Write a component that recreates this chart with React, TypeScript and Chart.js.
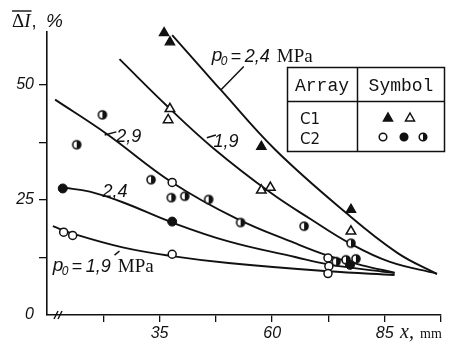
import React, { useEffect, useRef } from 'react';
import { Chart, registerables } from 'chart.js';
Chart.register(...registerables);

// Tick labels
const xTickLabels = [35, 60, 85];
const yTickLabels = [0, 25, 50];

// Array C1 points
const c1p24: [number, number][] = [[36.0, 61.3], [37.3, 59.3], [57.6, 36.6], [77.5, 22.9]];
const c1p19: [number, number][] = [[37.3, 44.8], [36.9, 42.4], [57.6, 27.1], [59.6, 27.7], [77.5, 18.2]];
// Array C2 points
const c2p19Open: [number, number][] = [[13.7, 18.0], [15.7, 17.3], [37.8, 13.2], [37.8, 28.8], [72.4, 12.4], [72.6, 10.6], [72.4, 9.0]];
const c2p24Filled: [number, number][] = [[13.5, 27.5], [37.8, 20.3], [77.3, 10.9]];
const c2p29Half: [number, number][] = [[16.6, 37.0], [22.3, 43.5], [33.1, 29.4], [37.6, 25.5], [40.6, 25.8], [45.9, 25.1], [53.0, 20.1], [67.1, 19.3], [77.5, 15.6], [74.2, 11.6], [76.4, 12.0], [78.6, 12.2]];

// Fitted curves
const curveC1p24: [number, number][] = [[37.8, 60.8], [43.7, 54.3], [48.6, 48.9], [60.7, 35.9], [76.4, 22.2], [87.8, 13.5], [96.6, 8.9]];
const curveC1p19: [number, number][] = [[26.1, 55.6], [36.9, 45.2], [47.0, 36.2], [59.6, 26.6], [68.6, 20.8], [77.2, 15.6], [86.0, 11.6], [96.6, 9.0]];
const curveC2p29: [number, number][] = [[11.8, 46.8], [23.2, 39.4], [37.8, 28.8], [52.0, 21.0], [65.1, 15.6], [72.4, 12.9], [80.0, 10.8], [87.2, 9.2]];
const curveC2p24: [number, number][] = [[13.5, 27.7], [19.5, 26.8], [26.8, 24.5], [37.8, 20.1], [50.3, 16.0], [65.1, 12.6], [72.4, 11.0], [87.2, 9.1]];
const curveC2p19: [number, number][] = [[11.3, 19.3], [15.7, 17.7], [26.8, 14.7], [37.8, 12.8], [50.3, 11.3], [72.4, 9.5], [87.2, 8.7]];

const INK = '#111';

const toXY = (a: [number, number][]) => a.map(([x, y]) => ({ x, y }));

function makeHalfCircle(r: number): HTMLCanvasElement {
  const c = document.createElement('canvas');
  const s = Math.ceil(2 * r + 4);
  c.width = s; c.height = s;
  const g = c.getContext('2d')!;
  const cx = s / 2, cy = s / 2;
  g.beginPath(); g.arc(cx, cy, r, 0, Math.PI * 2); g.fillStyle = '#fff'; g.fill();
  g.beginPath(); g.arc(cx, cy, r, -Math.PI / 2, Math.PI / 2); g.closePath(); g.fillStyle = INK; g.fill();
  g.beginPath(); g.arc(cx, cy, r, 0, Math.PI * 2); g.lineWidth = 1.6; g.strokeStyle = INK; g.stroke();
  return c;
}

function drawTri(ctx: CanvasRenderingContext2D, x: number, y: number, r: number, filled: boolean) {
  ctx.beginPath();
  ctx.moveTo(x, y - r);
  ctx.lineTo(x + r * 0.9, y + r * 0.6);
  ctx.lineTo(x - r * 0.9, y + r * 0.6);
  ctx.closePath();
  ctx.fillStyle = filled ? INK : '#fff';
  ctx.fill();
  ctx.lineWidth = 1.5; ctx.strokeStyle = INK; ctx.stroke();
}

function drawCirc(ctx: CanvasRenderingContext2D, x: number, y: number, r: number, mode: 'open' | 'filled' | 'half') {
  ctx.beginPath(); ctx.arc(x, y, r, 0, Math.PI * 2);
  ctx.fillStyle = mode === 'filled' ? INK : '#fff'; ctx.fill();
  if (mode === 'half') {
    ctx.beginPath(); ctx.arc(x, y, r, -Math.PI / 2, Math.PI / 2); ctx.closePath(); ctx.fillStyle = INK; ctx.fill();
  }
  ctx.beginPath(); ctx.arc(x, y, r, 0, Math.PI * 2); ctx.lineWidth = 1.5; ctx.strokeStyle = INK; ctx.stroke();
}

function drawPLabel(ctx: CanvasRenderingContext2D, x: number, y: number, val: string) {
  ctx.fillStyle = INK; ctx.textAlign = 'left'; ctx.textBaseline = 'alphabetic';
  ctx.font = 'italic 19px "Liberation Sans"';
  ctx.fillText('p', x, y - 2);
  ctx.font = 'italic 12px "Liberation Sans"';
  ctx.fillText('0', x + 9, y + 2);
  ctx.font = '18px "Liberation Sans"';
  ctx.fillText('=', x + 19, y - 1);
  ctx.font = 'italic 18px "Liberation Sans"';
  ctx.fillText(val, x + 33, y - 1);
  ctx.font = '19px "Liberation Serif"';
  ctx.fillText('MPa', x + 65, y - 1);
}

const annotationPlugin = {
  id: 'annot',
  afterDatasetsDraw(chart: any) {
    const ctx: CanvasRenderingContext2D = chart.ctx;
    const xs = chart.scales.x, ys = chart.scales.y;
    const px = (v: number) => xs.getPixelForValue(v);
    const py = (v: number) => ys.getPixelForValue(v);
    ctx.save();
    ctx.strokeStyle = INK; ctx.fillStyle = INK; ctx.lineWidth = 1.5;
    const seg = (a: number, b: number, c: number, d: number) => {
      ctx.beginPath(); ctx.moveTo(px(a), py(b)); ctx.lineTo(px(c), py(d)); ctx.stroke();
    };
    // leaders
    seg(48.6, 48.9, 53.7, 54.0);
    seg(22.8, 39.1, 25.4, 39.8);
    seg(45.5, 38.5, 47.5, 39.1);
    seg(25.0, 13.0, 26.1, 13.9);
    // labels
    drawPLabel(ctx, px(46.6), py(54.8), '2,4');
    drawPLabel(ctx, px(11.3), py(9.1), '1,9');
    ctx.font = 'italic 18px "Liberation Sans"';
    ctx.textAlign = 'left'; ctx.textBaseline = 'alphabetic';
    ctx.fillText('2,9', px(25.4), py(37.6));
    ctx.fillText('1,9', px(47.0), py(36.5));
    ctx.fillText('2,4', px(22.3), py(25.6));

    // axis break marks
    const ax = chart.chartArea;
    ctx.lineWidth = 1.4;
    [56, 60].forEach((bx) => {
      ctx.beginPath(); ctx.moveTo(bx - 2, ax.bottom + 4); ctx.lineTo(bx + 2, ax.bottom - 4); ctx.stroke();
    });

    // Y title: overline ΔI, %
    ctx.textAlign = 'left'; ctx.textBaseline = 'alphabetic';
    ctx.font = '19px "Liberation Serif"';
    ctx.fillText('Δ', 12, 27);
    let w = ctx.measureText('Δ').width;
    ctx.font = 'italic 19px "Liberation Serif"';
    ctx.fillText('I', 12 + w, 27);
    w += ctx.measureText('I').width;
    ctx.lineWidth = 1.4;
    ctx.beginPath(); ctx.moveTo(12, 11); ctx.lineTo(12 + w + 1, 11); ctx.stroke();
    ctx.font = '18px "Liberation Sans"';
    ctx.fillText(',', 12 + w + 1, 27);
    ctx.font = 'italic 19px "Liberation Sans"';
    ctx.fillText('%', 46, 27);

    // X title
    ctx.font = 'italic 20px "Liberation Serif"';
    ctx.fillText('x,', 400, 338);
    ctx.font = '14px "Liberation Serif"';
    ctx.fillText('mm', 420, 338);

    // Legend table
    ctx.lineWidth = 1.5;
    ctx.strokeRect(287.5, 67.5, 157, 84);
    ctx.beginPath(); ctx.moveTo(357.5, 67.5); ctx.lineTo(357.5, 151.5); ctx.stroke();
    ctx.beginPath(); ctx.moveTo(287.5, 101.5); ctx.lineTo(444.5, 101.5); ctx.stroke();
    ctx.font = '18px "Liberation Mono"';
    ctx.textAlign = 'center';
    ctx.fillText('Array', 322, 91);
    ctx.fillText('Symbol', 401, 91);
    ctx.textAlign = 'left';
    ctx.font = '15px "DejaVu Sans"';
    ctx.fillText('C1', 300, 124);
    ctx.fillText('C2', 300, 144);
    drawTri(ctx, 388, 118, 5, true);
    drawTri(ctx, 410, 118, 5, false);
    drawCirc(ctx, 383, 137, 3.8, 'open');
    drawCirc(ctx, 404, 137, 3.8, 'filled');
    drawCirc(ctx, 423, 137, 3.8, 'half');
    ctx.restore();
  },
};

export default function App() {
  const ref = useRef<HTMLCanvasElement>(null);
  useEffect(() => {
    if (!ref.current) return;
    const half = makeHalfCircle(4);
    const lineDs = (d: [number, number][]) => ({
      type: 'line' as const,
      data: toXY(d),
      borderColor: INK,
      borderWidth: 1.9,
      pointRadius: 0,
      fill: false,
      tension: 0.4,
      showLine: true,
      clip: false,
    });
    const chart = new Chart(ref.current, {
      type: 'scatter',
      data: {
        datasets: [
          { data: toXY(c1p24), pointStyle: 'triangle', pointRadius: 5.5, backgroundColor: INK, borderColor: INK, borderWidth: 1.2, clip: false },
          { data: toXY(c1p19), pointStyle: 'triangle', pointRadius: 5.5, backgroundColor: '#fff', borderColor: INK, borderWidth: 1.5, clip: false },
          { data: toXY(c2p19Open), pointStyle: 'circle', pointRadius: 4, backgroundColor: '#fff', borderColor: INK, borderWidth: 1.5, clip: false },
          { data: toXY(c2p24Filled), pointStyle: 'circle', pointRadius: 4.5, backgroundColor: INK, borderColor: INK, borderWidth: 1, clip: false },
          { data: toXY(c2p29Half), pointStyle: half as any, pointRadius: 4, clip: false },
          lineDs(curveC1p24),
          lineDs(curveC1p19),
          lineDs(curveC2p29),
          lineDs(curveC2p24),
          lineDs(curveC2p19),
        ] as any,
      },
      options: {
        animation: false,
        responsive: false,
        devicePixelRatio: 1,
        layout: { padding: { left: 0, top: 32, right: 12, bottom: 0 } },
        plugins: { legend: { display: false }, tooltip: { enabled: false } },
        scales: {
          x: {
            type: 'linear',
            min: 10,
            max: 97.5,
            afterFit: (s: any) => { s.height = 30; },
            afterBuildTicks: (s: any) => { s.ticks = s.ticks.filter((t: any) => t.value > 10.01); },
            ticks: {
              stepSize: 12.5,
              autoSkip: false,
              maxRotation: 0,
              padding: 2,
              color: INK,
              font: { family: '"Liberation Sans"', style: 'italic', size: 16 },
              callback: (v: any) => (xTickLabels.includes(Number(v)) ? String(v) : ''),
            },
            grid: { drawOnChartArea: false, drawTicks: true, tickLength: 7, color: INK, lineWidth: 1.3 },
            border: { display: true, color: INK, width: 1.6 },
          },
          y: {
            type: 'linear',
            min: 0,
            max: 61.5,
            afterFit: (s: any) => { s.width = 47; },
            afterBuildTicks: (s: any) => { s.ticks = s.ticks.filter((t: any) => t.value <= 50.01); },
            ticks: {
              stepSize: 12.5,
              autoSkip: false,
              padding: 5,
              color: INK,
              font: { family: '"Liberation Sans"', style: 'italic', size: 16 },
              callback: (v: any) => (yTickLabels.includes(Number(v)) ? String(v) : ''),
            },
            grid: {
              drawOnChartArea: false,
              drawTicks: true,
              tickLength: 8,
              lineWidth: 1.3,
              color: (c: any) => (c.tick && c.tick.value === 0 ? 'rgba(0,0,0,0)' : INK),
            },
            border: { display: true, color: INK, width: 1.6 },
          },
        },
      },
      plugins: [annotationPlugin],
    });
    return () => chart.destroy();
  }, []);
  return (
    <div style={{ position: 'fixed', left: 0, top: 0, width: 453, height: 345, background: '#fff' }}>
      <canvas ref={ref} width={453} height={345} style={{ width: 453, height: 345, display: 'block' }} />
    </div>
  );
}
